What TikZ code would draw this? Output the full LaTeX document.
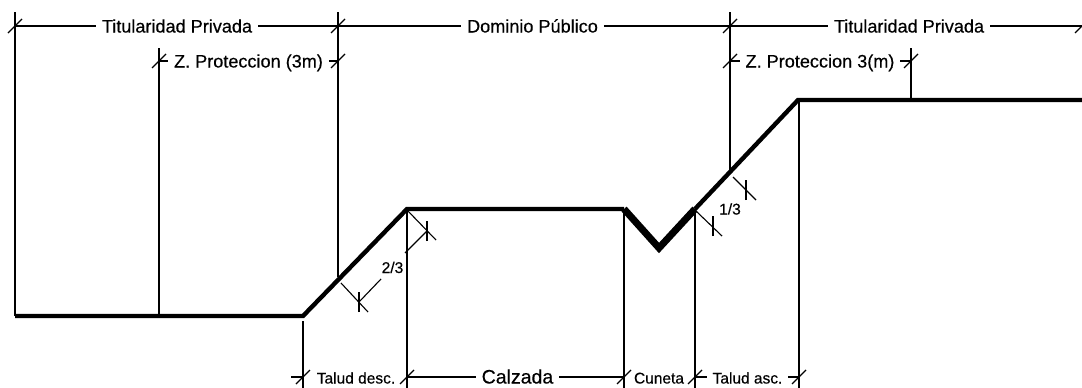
\documentclass[tikz,border=0pt]{standalone}
\usepackage{fontspec}
\setmainfont[RawFeature={embolden=0.4}]{Liberation Sans}
\tikzset{
  ground/.style={line width=4.4pt, line join=miter},
  ditch/.style={line width=7pt, line join=miter},
  thinline/.style={line width=1.1pt},
  edgeline/.style={line width=1.6pt},
  lab/.style={inner sep=0pt, outer sep=6pt, text height=15pt, text depth=2pt},
  biglab/.style={lab, font=\fontsize{18.1}{18}\selectfont},
  calzlab/.style={lab, font=\fontsize{19.5}{19}\selectfont},
  smalllab/.style={lab, font=\fontsize{15.5}{15}\selectfont},
  tinylab/.style={lab, font=\fontsize{15.5}{15}\selectfont, outer sep=0pt},
}
\begin{document}
\begin{tikzpicture}[x=1pt,y=-1pt]
  \useasboundingbox (0,0) rectangle (1082,388);
  % terrain
  \coordinate (g1) at (15,316);
  \coordinate (g2) at (303,316);
  \coordinate (g3) at (407,209);
  \coordinate (g4) at (624,209);
  \coordinate (g5) at (659,248);
  \coordinate (g6) at (695,209);
  \coordinate (g7) at (798,100);
  \coordinate (g8) at (1082,100);
  \draw[ground] (g1) -- (g2) -- (g3) -- (g4);
  \draw[ditch] (g4) -- (g5) -- (g6);
  \draw[ground] (g6) -- (g7) -- (g8);
  % feet of the vertical lines
  \coordinate (f159) at (159,316);
  \coordinate (f338) at (338,277);
  \coordinate (f730) at (730,170);
  \coordinate (f911) at (911,100);
  % tops
  \coordinate (t15) at (15,12);
  \coordinate (t159) at (159,48);
  \coordinate (t338) at (338,12);
  \coordinate (t730) at (730,12);
  \coordinate (t911) at (911,48);
  \coordinate (t303) at (303,321);
  \coordinate (t799) at (799,100);
  % bottoms
  \coordinate (b303) at (303,388);
  \coordinate (b407) at (407,388);
  \coordinate (b624) at (624,388);
  \coordinate (b695) at (695,388);
  \coordinate (b799) at (799,388);
  \draw[edgeline] (t15) -- (g1);
  \foreach \p/\q in {t159/f159, t338/f338, t730/f730, t911/f911,
    t303/b303, g3/b407, g4/b624, g6/b695, t799/b799}
    \draw[thinline] (\p) -- (\q);
  % top row
  \coordinate (d1) at (15,26);
  \coordinate (d2) at (338,26);
  \coordinate (d3) at (730,26);
  \coordinate (d4) at (1082,26);
  \node[biglab] (titL) at (177,26) {Titularidad Privada};
  \node[biglab] (dom) at (532.5,26) {Dominio Público};
  \node[biglab] (titR) at (909,26) {Titularidad Privada};
  \draw[thinline] (d1) -- (titL);
  \draw[thinline] (titL) -- (d2) -- (dom);
  \draw[thinline] (dom) -- (d3) -- (titR);
  \draw[thinline] (titR) -- (d4);
  % second row
  \coordinate (z1) at (159,61);
  \coordinate (z2) at (338,61);
  \coordinate (z3) at (730,61);
  \coordinate (z4) at (911,61);
  \node[biglab] (protL) at (248.5,61) {Z. Proteccion (3m)};
  \node[biglab] (protR) at (820,61) {Z. Proteccion 3(m)};
  \draw[thinline] (z1) -- (protL);
  \draw[thinline] (protL) -- (z2);
  \draw[thinline] (z3) -- (protR);
  \draw[thinline] (protR) -- (z4);
  % bottom row
  \coordinate (c0) at (291,377);
  \coordinate (c1) at (303,377);
  \coordinate (c2) at (407,377);
  \coordinate (c3) at (624,377);
  \coordinate (c4) at (695,377);
  \coordinate (c4b) at (707,377);
  \coordinate (c5) at (799,377);
  \node[smalllab] (descL) at (356,377) {Talud desc.};
  \node[calzlab] (calz) at (517.5,377) {Calzada};
  \node[smalllab] (cun) at (659,377) {Cuneta};
  \node[smalllab] (asc) at (747.5,377) {Talud asc.};
  \draw[thinline] (c0) -- (c1);
  \draw[thinline] (c2) -- (calz);
  \draw[thinline] (calz) -- (c3);
  \draw[thinline] (c4) -- (c4b);
  \draw[thinline] (asc) -- (c5);
  % slashes
  \foreach \c in {d1,d2,d3,d4,z1,z2,z3,z4,c1,c2,c3,c4,c5}
    \draw[thinline] ([shift={(-7,7)}]\c) -- ([shift={(7,-7)}]\c);
  % slope 2/3
  \coordinate (s1) at (341,283);
  \coordinate (s2) at (368,312);
  \coordinate (s3) at (407,210);
  \coordinate (s4) at (436,240);
  \coordinate (k1) at (359,302);
  \coordinate (k2) at (427,231);
  \coordinate (e1) at (381,279);
  \coordinate (e2) at (405,253);
  \node[tinylab] (dosT) at (392.5,266.5) {2/3};
  \draw[thinline] (s1) -- (s2);
  \draw[thinline] (s3) -- (s4);
  \draw[thinline] (k1) -- (e1);
  \draw[thinline] (k2) -- (e2);
  % slope 1/3
  \coordinate (s5) at (697,212);
  \coordinate (s6) at (722,236);
  \coordinate (s7) at (733,177);
  \coordinate (s8) at (756,200);
  \coordinate (k3) at (713,226);
  \coordinate (k4) at (746,190);
  \node[tinylab] (unoT) at (730,208) {1/3};
  \draw[thinline] (s5) -- (s6);
  \draw[thinline] (s7) -- (s8);
  \foreach \c in {k1,k2,k3,k4}
    \draw[thinline] ([yshift=-10pt]\c) -- ([yshift=10pt]\c);
\end{tikzpicture}
\end{document}
